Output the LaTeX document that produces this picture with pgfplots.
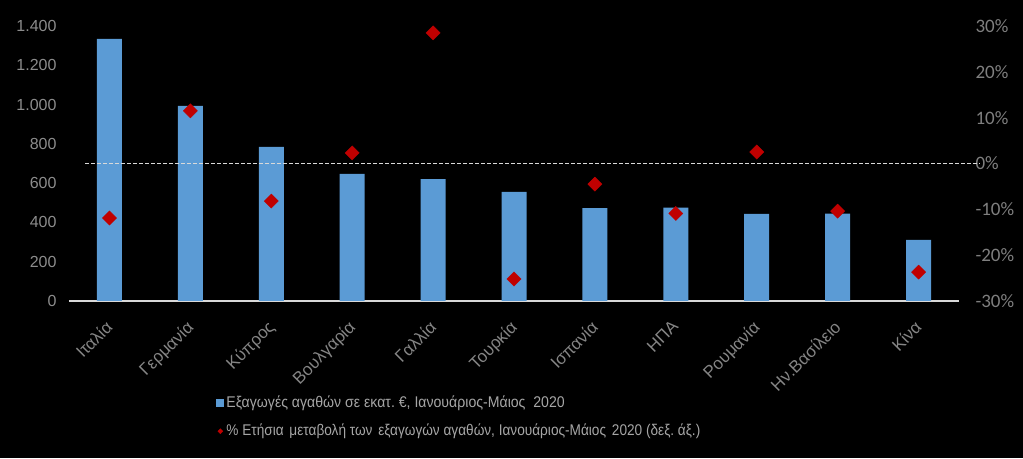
\documentclass[border=0pt]{standalone}
\usepackage{fontspec}
\setmainfont{Liberation Sans}
\newfontfamily\calib{Carlito}
\newfontfamily\legfont[FakeStretch=0.91]{Liberation Sans}
\newfontfamily\legfontb[FakeStretch=0.88]{Liberation Sans}
\usepackage{pgfplots}
\pgfplotsset{compat=1.18}
\definecolor{barblue}{HTML}{5B9BD5}
\definecolor{dred}{HTML}{C00000}
\definecolor{tickgray}{HTML}{8C8C8C}
\definecolor{catgray}{HTML}{858585}
\definecolor{leggray}{HTML}{A6A6A6}
\definecolor{rgray}{HTML}{7F7F7F}
\definecolor{linegray}{HTML}{D9D9D9}
\frenchspacing
\begin{document}
\begin{tikzpicture}
\useasboundingbox (0,0) rectangle (1023pt,458pt);
\fill[black] (0,0) rectangle (1023pt,458pt);
\begin{axis}[
  at={(69pt,157pt)}, anchor=south west, scale only axis,
  width=890pt, height=275pt,
  xmin=-0.5, xmax=10.5, ymin=0, ymax=1400,
  axis x line*=bottom, axis y line*=left,
  x axis line style={-, draw=linegray, line width=1.5pt},
  y axis line style={draw=none},
  major tick length=0pt,
  ytick={0,200,400,600,800,1000,1200,1400},
  yticklabels={0,200,400,600,800,1.000,1.200,1.400},
  yticklabel style={font=\fontsize{16pt}{18pt}\selectfont, text=tickgray, anchor=east, xshift=-9pt},
  xtick={0,...,10},
  xticklabels={Ιταλία,Γερμανία,Κύπρος,Βουλγαρία,Γαλλία,Τουρκία,Ισπανία,ΗΠΑ,Ρουμανία,Ην.Βασίλειο,Κίνα},
  xticklabel style={font=\fontsize{17pt}{19pt}\selectfont, text=catgray, rotate=45, anchor=north east, xshift=-13pt, yshift=-6pt},
  ybar, bar width=25pt,
  legend style={at={(axis description cs:0.162,-0.33)}, anchor=north west, draw=none, fill=none,
    text=leggray, font=\legfont\fontsize{15.5pt}{17pt}\selectfont, row sep=11pt,
    /tikz/every even column/.append style={column sep=2pt}},
  legend cell align=left,
]
\addplot[fill=barblue, draw=none,
  legend image code/.code={\fill[barblue] (0pt,-4pt) rectangle (8pt,4pt);}]
  coordinates {(0,1335) (1,993) (2,784) (3,647) (4,621) (5,555) (6,473) (7,475) (8,443) (9,445) (10,311)};
\addlegendentry{Εξαγωγές αγαθών σε εκατ. €, Ιανουάριος-Μάιος\ \ 2020}
\addlegendimage{legend image code/.code={\fill[dred] (4pt,-3pt) -- (6.5pt,-0.5pt) -- (4pt,2pt) -- (1.5pt,-0.5pt) -- cycle;}}
\addlegendentry{\legfontb\% Ετήσια\hspace{2pt} μεταβολή των\hspace{2pt} εξαγωγών αγαθών, Ιανουάριος-Μάιος\hspace{2pt} 2020 (δεξ. άξ.)}
\end{axis}
\begin{axis}[
  at={(69pt,157pt)}, anchor=south west, scale only axis,
  width=890pt, height=275pt,
  xmin=-0.5, xmax=10.5, ymin=-30, ymax=30,
  axis x line=none, axis y line*=right,
  y axis line style={draw=none},
  major tick length=0pt,
  ytick={-30,-20,-10,0,10,20,30},
  yticklabels={-30\%,-20\%,-10\%,0\%,10\%,20\%,30\%},
  yticklabel style={font=\calib\fontsize{19pt}{21pt}\selectfont, text=rgray, anchor=west, xshift=13pt},
  clip=false,
]
\addplot[draw=linegray, line width=1.2pt, dash pattern=on 3.5pt off 2.5pt] coordinates {(-0.3,0) (10.755,0)};
\addplot[only marks, mark=square*, mark size=5pt, mark options={rotate=45, fill=dred, draw=dred}]
  coordinates {(0,-11.9) (1,11.5) (2,-8.2) (3,2.3) (4,28.5) (5,-25.2) (6,-4.5) (7,-10.9) (8,2.5) (9,-10.4) (10,-23.7)};
\end{axis}
\end{tikzpicture}
\end{document}
